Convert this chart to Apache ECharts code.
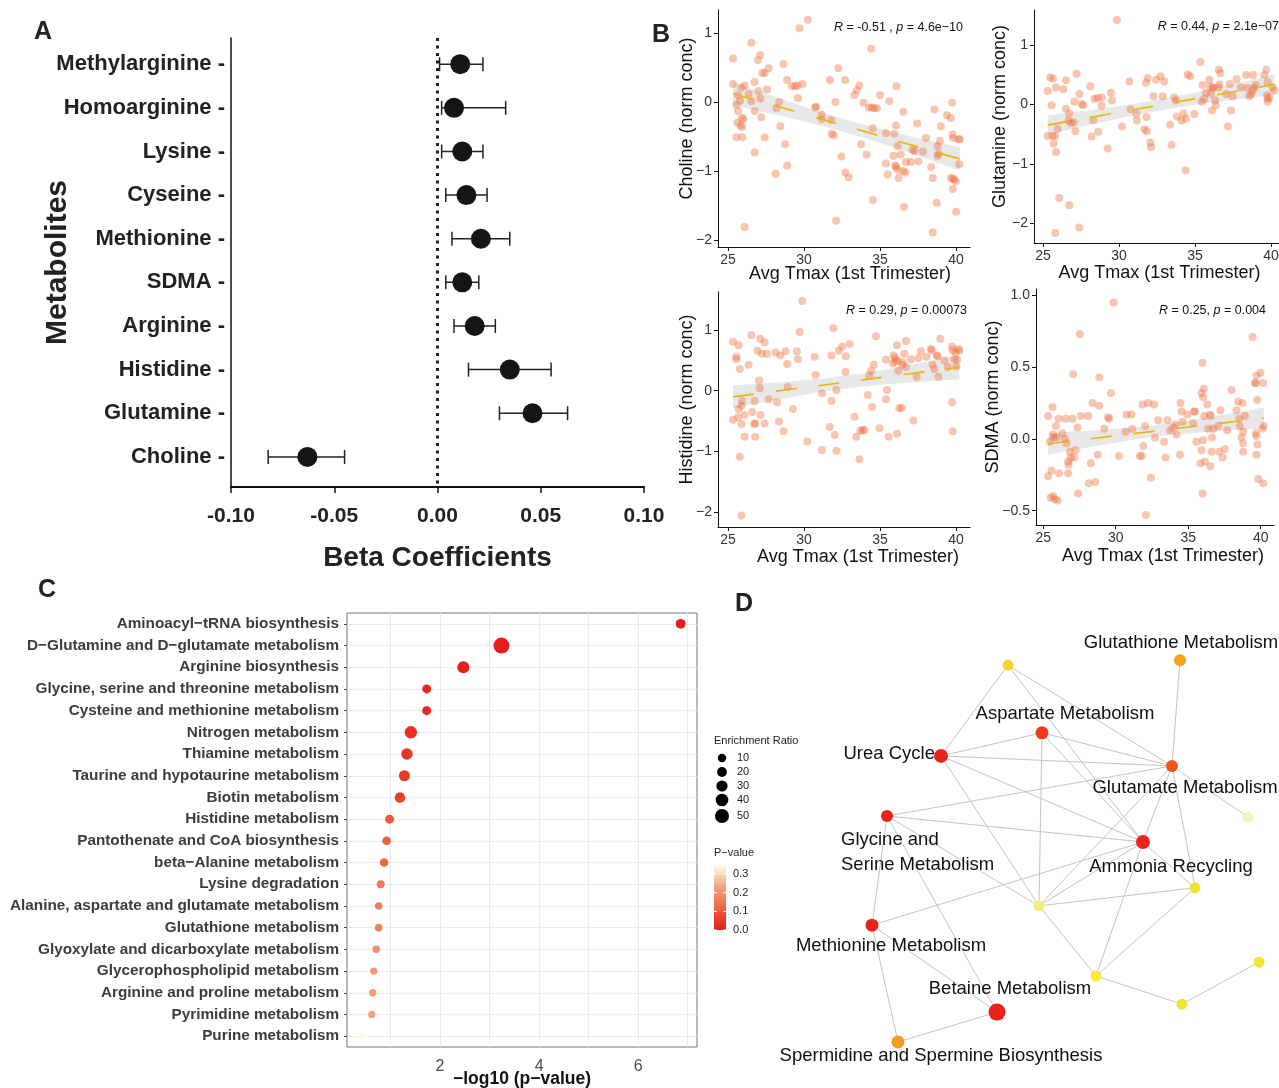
<!DOCTYPE html>
<html>
<head>
<meta charset="utf-8">
<title>Metabolites vs. first trimester temperature</title>
<script src="https://cdn.jsdelivr.net/npm/echarts@6.0.0/dist/echarts.min.js"></script>
<style>
  html, body { margin: 0; padding: 0; background: #fff; }
  #chart { width: 1279px; height: 1088px; }
</style>
</head>
<body>
<div id="chart"></div>
<script>
// ---------- A: beta coefficients ----------
var metabolites = ['Methylarginine', 'Homoarginine', 'Lysine', 'Cyseine', 'Methionine', 'SDMA', 'Arginine', 'Histidine', 'Glutamine', 'Choline'];
var betaEst = [0.011, 0.008, 0.012, 0.014, 0.021, 0.012, 0.018, 0.035, 0.046, -0.063];
var betaLow = [0.001, 0.002, 0.002, 0.004, 0.007, 0.004, 0.008, 0.015, 0.030, -0.082];
var betaHigh = [0.022, 0.033, 0.022, 0.024, 0.035, 0.020, 0.028, 0.055, 0.063, -0.045];

// ---------- B: scatter plots (x = avg Tmax, y = normalised conc) ----------
var tmaxTicks = [25, 30, 35, 40];
var cholinePts = [[25.33,0.63],[25.33,0.26],[25.88,0.21],[26.09,0.24],[25.66,0.10],[25.79,0.02],[25.55,-0.04],[25.66,-0.13],[25.92,-0.23],[26.01,-0.25],[25.61,-0.30],[25.83,-0.34],[25.92,-0.36],[25.55,-0.51],[25.94,-0.51],[26.09,-1.81],[26.36,0.12],[26.53,0.86],[26.53,0.01],[26.75,0.29],[26.75,-0.13],[26.75,-0.73],[26.97,0.61],[27.12,0.68],[27.01,0.16],[27.12,0.05],[27.19,-0.22],[27.25,0.42],[27.41,0.42],[27.67,0.49],[27.56,0.18],[27.41,-0.51],[28.13,-1.04],[28.19,-0.09],[28.37,0.00],[28.44,-0.35],[28.65,0.55],[28.76,-0.61],[28.89,0.32],[28.89,-0.92],[29.20,0.23],[29.42,0.23],[29.60,0.06],[29.55,0.24],[29.90,0.26],[29.70,1.07],[30.25,1.19],[30.73,-0.08],[30.80,-0.07],[31.15,-0.18],[31.17,-0.25],[31.70,0.32],[31.78,-0.26],[31.82,-0.46],[31.96,-0.48],[32.07,0.00],[32.11,-1.72],[32.26,0.49],[32.46,-0.79],[32.70,0.32],[32.72,-1.02],[32.94,-1.09],[33.32,0.10],[33.48,0.17],[33.64,0.24],[33.75,-0.61],[33.91,-0.01],[34.12,-0.76],[34.26,-0.08],[34.41,0.77],[34.45,-0.08],[34.52,-0.38],[34.63,-0.09],[34.52,-1.42],[34.80,-0.09],[35.00,0.10],[35.39,-0.45],[35.39,-0.89],[35.61,0.01],[35.50,-1.05],[35.89,-0.78],[35.94,-0.46],[36.05,-0.34],[36.09,0.23],[36.16,-0.64],[36.01,-0.92],[36.05,-0.94],[36.16,-0.98],[36.36,-0.76],[36.23,-1.10],[36.58,-1.52],[36.53,-0.14],[36.53,-1.00],[36.67,-1.02],[36.71,-0.87],[37.04,-0.87],[37.15,-0.69],[37.27,-0.71],[37.44,-0.31],[37.53,-0.86],[37.81,-0.72],[38.03,-0.52],[38.36,-0.94],[38.47,-1.10],[38.47,-1.89],[38.58,-0.11],[38.73,-1.46],[38.79,-0.78],[38.79,-0.64],[38.85,-0.75],[39.00,-0.35],[38.94,-0.56],[39.40,-0.19],[39.66,-0.23],[39.75,-0.01],[39.77,-0.47],[39.81,-0.52],[39.66,-1.10],[39.79,-1.11],[39.88,-1.12],[39.79,-1.26],[39.99,-1.15],[40.01,-1.59],[40.16,-0.54],[40.25,-0.54],[40.21,-0.90]];
var glutaminePts = [[25.31,0.23],[25.31,-0.53],[25.48,0.46],[25.66,0.44],[25.57,-0.01],[25.64,-0.53],[25.79,-0.53],[25.70,-0.66],[25.86,-0.80],[25.96,-0.41],[25.86,0.29],[26.07,-1.58],[25.81,-2.17],[26.34,0.26],[26.51,0.41],[26.51,-0.07],[26.73,-0.15],[26.69,-0.27],[26.84,-0.31],[27.02,-0.30],[27.13,-0.45],[27.21,0.52],[27.39,0.18],[27.06,0.05],[27.54,0.01],[27.65,-0.01],[26.73,-1.70],[27.39,-2.08],[28.11,0.31],[28.20,-0.54],[28.31,-0.26],[28.38,0.10],[28.60,0.11],[28.64,-0.46],[28.86,-0.02],[28.86,0.12],[29.25,-0.74],[29.47,0.20],[29.54,0.07],[29.87,1.43],[30.20,-0.37],[30.68,0.39],[30.75,-0.08],[31.14,-0.16],[31.18,-0.27],[31.67,-0.42],[31.84,-0.45],[31.80,-0.21],[31.78,0.37],[31.89,0.45],[32.06,-0.64],[32.11,-0.72],[32.26,0.14],[32.44,0.42],[32.73,0.48],[32.88,0.14],[32.98,0.39],[33.36,-0.34],[33.46,-0.68],[33.64,0.12],[33.82,-0.20],[33.75,0.07],[34.12,-0.27],[34.25,-0.15],[34.41,-0.24],[34.38,-1.11],[34.52,0.51],[34.69,0.48],[34.96,-0.16],[35.35,0.72],[35.44,0.05],[35.50,0.33],[35.61,0.10],[35.72,0.20],[35.94,0.42],[36.01,0.31],[36.16,0.28],[36.05,0.18],[36.20,0.29],[36.32,0.07],[36.36,-0.01],[36.11,-0.10],[36.56,0.59],[36.67,0.53],[36.61,0.34],[36.54,0.29],[37.05,0.18],[37.16,-0.37],[37.37,-0.10],[37.48,0.14],[37.28,0.35],[37.74,0.43],[38.03,0.29],[38.36,0.50],[38.46,0.28],[38.57,0.14],[38.68,0.17],[38.83,0.50],[38.90,0.28],[38.79,0.24],[39.00,0.33],[39.69,0.59],[39.56,0.50],[39.78,0.38],[39.74,0.16],[39.78,0.10],[39.78,0.05],[39.89,0.12],[40.11,0.29],[40.22,0.24]];
var histidinePts = [[25.33,0.81],[25.33,-0.48],[25.55,0.56],[25.55,0.52],[25.70,0.75],[25.77,0.36],[25.92,-0.17],[25.88,-0.25],[25.70,-0.30],[25.66,-0.44],[25.88,-0.55],[26.09,-0.40],[26.09,-0.76],[25.77,-1.09],[25.88,-2.06],[26.36,0.43],[26.53,0.92],[26.60,-0.35],[26.71,-0.55],[26.79,-0.54],[26.79,-0.76],[26.75,-0.17],[27.04,0.17],[27.08,0.04],[26.93,0.66],[27.12,0.86],[27.41,0.80],[27.23,0.61],[27.56,0.61],[27.14,-0.40],[27.41,-0.54],[27.67,-0.14],[28.22,-0.19],[28.13,0.63],[28.35,-0.51],[28.44,0.58],[28.65,-0.67],[28.79,0.65],[28.89,0.44],[28.93,0.06],[29.27,-0.30],[29.53,0.65],[29.60,0.52],[29.71,0.97],[29.88,1.48],[30.21,-0.84],[30.69,0.56],[30.76,0.26],[31.18,-0.04],[31.18,-0.98],[31.69,-0.60],[31.80,-0.17],[31.80,0.58],[31.93,1.03],[32.02,-0.73],[32.13,0.01],[32.13,-0.99],[32.29,0.66],[32.51,0.73],[32.75,0.57],[32.73,0.31],[33.00,0.77],[33.32,-0.43],[33.43,-0.76],[33.64,-1.13],[33.71,-0.66],[33.86,-0.65],[33.97,-0.65],[34.19,-0.07],[34.30,0.25],[34.41,0.33],[34.48,-0.27],[34.59,0.43],[34.74,0.90],[34.96,-0.62],[35.39,0.51],[35.46,0.01],[35.39,-0.14],[35.57,-0.76],[35.83,0.45],[35.90,0.58],[35.98,0.54],[36.01,0.48],[36.12,0.75],[36.12,-0.71],[36.16,0.50],[36.20,0.33],[36.27,-0.29],[36.42,-0.28],[36.45,0.43],[36.49,0.47],[36.60,0.61],[36.71,0.82],[36.71,0.39],[37.04,0.52],[37.19,-0.49],[37.41,0.23],[37.54,0.54],[37.69,0.65],[38.06,0.56],[38.35,0.69],[38.41,0.67],[38.46,0.43],[38.57,0.36],[38.75,0.58],[38.84,0.23],[38.97,0.86],[38.79,0.57],[39.23,0.50],[39.45,0.39],[39.74,-0.19],[39.74,0.73],[39.78,0.67],[39.78,-0.67],[39.89,0.52],[39.96,0.63],[40.07,0.51],[40.16,0.69],[40.22,0.66],[40.02,0.40]];
var sdmaPts = [[25.34,0.16],[25.34,-0.26],[25.46,-0.02],[25.57,-0.22],[25.51,-0.41],[25.64,0.22],[25.69,0.03],[25.69,-0.40],[25.74,0.01],[25.80,-0.42],[25.87,0.09],[25.92,0.01],[25.99,-0.43],[26.06,0.14],[26.08,-0.24],[26.31,0.04],[26.49,0.00],[26.56,0.14],[26.61,-0.03],[26.72,-0.16],[26.75,-0.18],[26.72,-0.24],[26.84,-0.09],[26.91,-0.13],[27.02,0.14],[27.07,0.45],[27.14,-0.13],[27.23,-0.08],[27.37,0.08],[27.41,-0.38],[27.53,0.73],[27.60,0.16],[28.10,0.16],[28.14,-0.31],[28.29,-0.17],[28.40,0.25],[28.59,-0.30],[28.75,-0.11],[28.86,0.23],[28.86,0.43],[29.21,0.07],[29.48,0.15],[29.55,0.14],[29.67,0.32],[29.85,0.95],[30.22,-0.12],[30.68,0.05],[30.75,0.17],[31.09,0.17],[31.14,0.07],[31.67,-0.12],[31.78,-0.12],[31.85,0.24],[31.90,-0.05],[32.03,0.09],[32.08,-0.53],[32.24,0.25],[32.43,-0.27],[32.66,0.24],[32.70,0.01],[32.93,0.13],[33.34,-0.02],[33.44,-0.13],[33.57,0.13],[33.74,0.06],[33.97,0.08],[34.13,0.10],[34.20,0.03],[34.43,-0.11],[34.47,0.25],[34.54,0.19],[34.61,0.12],[34.95,0.17],[35.34,0.11],[35.41,0.19],[35.46,0.19],[35.57,-0.02],[35.85,-0.17],[35.92,-0.08],[35.92,0.32],[35.99,0.53],[36.03,0.29],[36.08,0.35],[36.03,-0.01],[36.10,0.16],[36.15,-0.16],[35.99,-0.38],[36.31,0.24],[36.38,0.07],[36.49,0.17],[36.53,-0.19],[36.61,-0.09],[36.64,0.01],[36.72,0.07],[36.56,0.16],[37.07,0.09],[37.14,-0.09],[37.23,0.20],[37.37,-0.13],[37.53,-0.07],[37.69,0.06],[37.99,0.34],[38.33,0.20],[38.45,0.26],[38.52,0.14],[38.56,0.09],[38.75,0.25],[38.68,0.01],[38.79,-0.03],[38.79,-0.09],[38.79,0.05],[38.91,0.16],[39.44,0.71],[39.60,0.39],[39.67,0.39],[39.71,0.44],[39.76,0.27],[39.67,0.04],[39.71,0.02],[39.78,-0.04],[39.71,-0.11],[39.83,-0.28],[39.99,0.46],[40.13,0.07],[40.17,0.39],[40.17,-0.31],[40.22,0.09]];
var corR = ['-0.51 ,', '0.44,', '0.29,', '0.25,'];
var corP = ['4.6e−10', '2.1e−07', '0.00073', '0.004'];

// ---------- C: pathway enrichment ----------
var pathways = ['Aminoacyl−tRNA biosynthesis', 'D−Glutamine and D−glutamate metabolism', 'Arginine biosynthesis', 'Glycine, serine and threonine metabolism', 'Cysteine and methionine metabolism', 'Nitrogen metabolism', 'Thiamine metabolism', 'Taurine and hypotaurine metabolism', 'Biotin metabolism', 'Histidine metabolism', 'Pantothenate and CoA biosynthesis', 'beta−Alanine metabolism', 'Lysine degradation', 'Alanine, aspartate and glutamate metabolism', 'Glutathione metabolism', 'Glyoxylate and dicarboxylate metabolism', 'Glycerophospholipid metabolism', 'Arginine and proline metabolism', 'Pyrimidine metabolism', 'Purine metabolism'];
var negLogP = [6.86, 3.24, 2.47, 1.73, 1.73, 1.41, 1.33, 1.28, 1.19, 0.98, 0.92, 0.87, 0.80, 0.76, 0.76, 0.71, 0.66, 0.64, 0.62, 0.44];
var enrichRatio = [21, 64, 36, 14, 14, 39, 32, 29, 25, 14, 11, 11, 7, 4, 4, 4, 2, 2, 2, 1];
var logTicks = [2, 4, 6];
var ratioLegend = [10, 20, 30, 40, 50];
var pLegend = [0.0, 0.1, 0.2, 0.3];

// ---------- D: pathway network ----------
var nodeNames = ['', 'Glutathione Metabolism', 'Aspartate Metabolism', 'Urea Cycle', 'Glutamate Metabolism', '', 'Glycine and\nSerine Metabolism', 'Ammonia Recycling', '', '', 'Methionine Metabolism', '', '', '', 'Betaine Metabolism', 'Spermidine and Spermine Biosynthesis'];
var nodeX = [47.6, 82.0, 54.4, 34.2, 80.4, 95.6, 23.4, 74.6, 85.0, 53.8, 20.4, 65.2, 97.8, 82.4, 45.4, 25.6];
var nodeY = [6.0, 4.8, 22.1, 27.6, 30.0, 42.1, 41.9, 48.1, 59.0, 63.3, 67.9, 80.0, 76.7, 86.7, 88.6, 95.7];
var nodeP = [0.61, 0.38, 0.08, 0.005, 0.15, 1.0, 0.005, 0.01, 0.7, 0.87, 0.005, 0.75, 0.7, 0.7, 0.002, 0.36];
var nodeRatio = [20, 27, 33, 40, 27, 20, 27, 40, 20, 20, 33, 20, 20, 20, 60, 33];
var edges = [[0,3],[0,4],[0,7],[1,4],[2,3],[2,4],[2,9],[2,7],[3,4],[3,7],[3,9],[4,5],[4,6],[4,7],[4,9],[4,8],[6,7],[6,9],[6,10],[6,14],[7,10],[7,9],[7,8],[7,11],[9,8],[9,11],[8,11],[11,13],[13,12],[10,14],[10,15],[14,15]];

var FONT = 'Liberation Sans, Arial, Helvetica, sans-serif';
var pStops = ['#e61e1c', '#e93c26', '#ed6040', '#f08660', '#f4a27f', '#f9cdb2', '#fffbe2'];
var netStops = ['#e8201c', '#f07a20', '#f5c81d', '#f3ea3a', '#f8f3b8'];

function hexRgb(h) { return [parseInt(h.slice(1, 3), 16), parseInt(h.slice(3, 5), 16), parseInt(h.slice(5, 7), 16)]; }
function ramp(stops, t) {
  t = Math.max(0, Math.min(1, t));
  var s = t * (stops.length - 1);
  var i = Math.min(Math.floor(s), stops.length - 2);
  var f = s - i, a = hexRgb(stops[i]), b = hexRgb(stops[i + 1]);
  return 'rgb(' + a.map(function (v, k) { return Math.round(v + (b[k] - v) * f); }).join(',') + ')';
}
function ratioSize(r) { return 7 + 0.14 * r; }
function minus(s) { return String(s).replace('-', '−'); }

// least squares line + 95% band, like geom_smooth(method = 'lm')
function fitLine(pts) {
  var n = pts.length, mx = 0, my = 0, sxx = 0, sxy = 0, sse = 0;
  pts.forEach(function (p) { mx += p[0] / n; my += p[1] / n; });
  pts.forEach(function (p) { sxx += (p[0] - mx) * (p[0] - mx); sxy += (p[0] - mx) * (p[1] - my); });
  var b = sxy / sxx, a = my - b * mx;
  pts.forEach(function (p) { var r = p[1] - a - b * p[0]; sse += r * r; });
  var s = Math.sqrt(sse / (n - 2));
  var xs = pts.map(function (p) { return p[0]; });
  var x0 = Math.min.apply(null, xs), x1 = Math.max.apply(null, xs);
  var band = [];
  for (var k = 0; k <= 40; k++) {
    var x = x0 + (x1 - x0) * k / 40;
    var se = 1.98 * s * Math.sqrt(1 / n + (x - mx) * (x - mx) / sxx);
    band.push([x, a + b * x - se, a + b * x + se]);
  }
  return { line: [[x0, a + b * x0], [x1, a + b * x1]], band: band };
}

var grids = [], xAxes = [], yAxes = [], series = [], graphics = [];

// ----- A -----
var idxA = metabolites.map(function (m, i) { return i; });
grids.push({ left: 231, top: 38, width: 413, height: 449 });
xAxes.push({
  gridIndex: 0, type: 'value', min: -0.1, max: 0.1, interval: 0.05,
  axisLine: { onZero: false, lineStyle: { color: '#111', width: 2 } },
  axisTick: { show: true, length: 6, lineStyle: { color: '#111', width: 1.5 } },
  axisLabel: { fontSize: 21, fontWeight: 'bold', color: '#222', margin: 19, fontFamily: FONT,
    formatter: function (v) { return Math.abs(v) < 1e-9 ? '0.00' : v.toFixed(2); } },
  splitLine: { show: false },
  name: 'Beta Coefficients', nameLocation: 'middle', nameGap: 57, nameMoveOverlap: false,
  nameTextStyle: { fontSize: 28, fontWeight: 'bold', color: '#222', fontFamily: FONT }
});
yAxes.push({
  gridIndex: 0, type: 'value', inverse: true, min: -0.6, max: 9.69,
  axisLine: { show: true, onZero: false, lineStyle: { color: '#111', width: 1.5 } },
  axisTick: { show: false },
  axisLabel: { customValues: idxA, margin: 6, fontSize: 22, fontWeight: 'bold', color: '#222', fontFamily: FONT,
    formatter: function (v) { return metabolites[v] + ' -'; } },
  splitLine: { show: false },
  name: 'Metabolites', nameLocation: 'middle', nameGap: 158, nameRotate: 90, nameMoveOverlap: false,
  nameTextStyle: { fontSize: 30, fontWeight: 'bold', color: '#222', fontFamily: FONT }
});
series.push({
  type: 'custom', xAxisIndex: 0, yAxisIndex: 0, silent: true, z: 3,
  data: idxA.map(function (i) { return [betaLow[i], betaHigh[i], i]; }),
  encode: { x: [0, 1], y: 2 },
  renderItem: function (params, api) {
    var lo = api.coord([api.value(0), api.value(2)]);
    var hi = api.coord([api.value(1), api.value(2)]);
    var st = { stroke: '#222', lineWidth: 1.5 };
    return { type: 'group', children: [
      { type: 'line', shape: { x1: lo[0], y1: lo[1], x2: hi[0], y2: hi[1] }, style: st },
      { type: 'line', shape: { x1: lo[0], y1: lo[1] - 7, x2: lo[0], y2: lo[1] + 7 }, style: st },
      { type: 'line', shape: { x1: hi[0], y1: hi[1] - 7, x2: hi[0], y2: hi[1] + 7 }, style: st }
    ] };
  }
});
series.push({
  type: 'scatter', xAxisIndex: 0, yAxisIndex: 0, z: 4, symbolSize: 20,
  itemStyle: { color: '#151515', opacity: 1 },
  data: idxA.map(function (i) { return [betaEst[i], i]; }),
  markLine: { silent: true, symbol: 'none', label: { show: false },
    lineStyle: { type: [3, 4.5], color: '#222', width: 3 }, data: [{ xAxis: 0 }] }
});

// ----- B -----
var bPanels = [
  { pts: cholinePts, name: 'Choline (norm conc)', grid: { left: 718, top: 10, width: 252, height: 237 }, x: [24.34, 40.92], y: [-2.10, 1.333], ticks: [-2, -1, 0, 1], dec: 0, gap: 22, xGap: 18, pad: 12, sx: 963, sy: 28 },
  { pts: glutaminePts, name: 'Glutamine (norm conc)', grid: { left: 1034, top: 10, width: 251, height: 233 }, x: [24.41, 40.92], y: [-2.34, 1.60], ticks: [-2, -1, 0, 1], dec: 0, gap: 25, xGap: 21, pad: 0, sx: 1279, sy: 27 },
  { pts: histidinePts, name: 'Histidine (norm conc)', grid: { left: 718, top: 292, width: 252, height: 235 }, x: [24.34, 40.92], y: [-2.25, 1.63], ticks: [-2, -1, 0, 1], dec: 0, gap: 22, xGap: 21, pad: 28, sx: 967, sy: 311 },
  { pts: sdmaPts, name: 'SDMA (norm conc)', grid: { left: 1036, top: 289, width: 238, height: 236 }, x: [24.50, 40.92], y: [-0.60, 1.044], ticks: [-0.5, 0, 0.5, 1.0], dec: 1, gap: 34, xGap: 22, pad: 16, sx: 1266, sy: 311 }
];
bPanels.forEach(function (bp, k) {
  var gi = grids.length;
  grids.push(bp.grid);
  xAxes.push({
    gridIndex: gi, type: 'value', min: bp.x[0], max: bp.x[1],
    axisLine: { onZero: false, lineStyle: { color: '#111', width: 1 } },
    axisTick: { show: true, customValues: tmaxTicks, length: 4, lineStyle: { color: '#111' } },
    axisLabel: { customValues: tmaxTicks, fontSize: 14, color: '#333', margin: 6, fontFamily: FONT },
    splitLine: { show: false },
    name: 'Avg Tmax (1st Trimester)', nameLocation: 'middle', nameGap: bp.xGap, nameMoveOverlap: false,
    nameTextStyle: { fontSize: 18, color: '#111', fontFamily: FONT, padding: [0, 0, 0, bp.pad] }
  });
  yAxes.push({
    gridIndex: gi, type: 'value', min: bp.y[0], max: bp.y[1],
    axisLine: { show: true, onZero: false, lineStyle: { color: '#111', width: 1 } },
    axisTick: { show: true, customValues: bp.ticks, length: 4, lineStyle: { color: '#111' } },
    axisLabel: { customValues: bp.ticks, fontSize: 14, color: '#333', margin: 6, fontFamily: FONT,
      formatter: function (v) { return minus(v.toFixed(bp.dec)); } },
    splitLine: { show: false },
    name: bp.name, nameLocation: 'middle', nameGap: bp.gap, nameRotate: 90, nameMoveOverlap: false,
    nameTextStyle: { fontSize: 18, color: '#111', fontFamily: FONT, padding: [0, 0, 0, 20] }
  });
  var fit = fitLine(bp.pts);
  series.push({
    type: 'custom', xAxisIndex: gi, yAxisIndex: gi, silent: true, z: 1,
    data: [[fit.line[0][0], fit.line[0][1]]],
    renderItem: function (params, api) {
      var up = fit.band.map(function (b) { return api.coord([b[0], b[2]]); });
      var dn = fit.band.slice().reverse().map(function (b) { return api.coord([b[0], b[1]]); });
      return { type: 'polygon', shape: { points: up.concat(dn) }, style: { fill: 'rgba(205,205,205,0.45)' } };
    }
  });
  series.push({
    type: 'scatter', xAxisIndex: gi, yAxisIndex: gi, z: 2, symbolSize: 8,
    itemStyle: { color: 'rgba(238,110,60,0.5)' },
    data: bp.pts
  });
  series.push({
    type: 'line', xAxisIndex: gi, yAxisIndex: gi, z: 3, symbol: 'none', silent: true,
    lineStyle: { color: '#E7B800', width: 1.6, type: [21, 22] },
    data: fit.line
  });
  graphics.push({
    type: 'text', x: bp.sx, y: bp.sy,
    style: {
      text: '{i|R} = ' + corR[k] + ' {i|p} = ' + corP[k],
      align: 'right', verticalAlign: 'middle', fill: '#111',
      font: '12.5px ' + FONT,
      rich: { i: { fontStyle: 'italic', fontSize: 12.5, fontFamily: FONT, fill: '#111' } }
    }
  });
});

// ----- C -----
var idxC = pathways.map(function (p, i) { return i; });
var gC = grids.length;
grids.push({ left: 347, top: 613, width: 350, height: 434, show: true, borderColor: '#777', borderWidth: 1 });
xAxes.push({
  gridIndex: gC, type: 'value', min: 0.12, max: 7.19,
  axisLine: { show: false },
  axisTick: { show: false, customValues: [1, 2, 3, 4, 5, 6, 7] },
  axisLabel: { customValues: logTicks, fontSize: 16, color: '#4d4d4d', margin: 12, fontFamily: FONT },
  splitLine: { show: true, lineStyle: { color: '#ebebeb', width: 1 } },
  name: '−log10 (p−value)', nameLocation: 'middle', nameGap: 23, nameMoveOverlap: false,
  nameTextStyle: { fontSize: 17.5, fontWeight: 'bold', color: '#111', fontFamily: FONT }
});
yAxes.push({
  gridIndex: gC, type: 'value', inverse: true, min: -0.5, max: 19.5,
  axisLine: { show: false, onZero: false },
  axisTick: { show: true, customValues: idxC, length: 3, lineStyle: { color: '#444' } },
  axisLabel: { customValues: idxC, fontSize: 15.3, fontWeight: 'bold', color: '#3c3c3c', margin: 8, fontFamily: FONT,
    formatter: function (v) { return pathways[v]; } },
  splitLine: { show: true, lineStyle: { color: '#ebebeb', width: 1 } }
});
series.push({
  type: 'scatter', xAxisIndex: gC, yAxisIndex: gC, z: 3,
  data: idxC.map(function (i) { return [negLogP[i], i, enrichRatio[i], Math.pow(10, -negLogP[i])]; }),
  symbolSize: function (v) { return ratioSize(v[2]); },
  itemStyle: { opacity: 1, color: function (p) { return ramp(pStops, p.data[3] / 0.36); } }
});
// C legends
graphics.push({ type: 'text', x: 714, y: 741, style: { text: 'Enrichment Ratio', font: '11px ' + FONT, fill: '#222', verticalAlign: 'middle' } });
var legY = [758, 772, 786, 800, 816];
ratioLegend.forEach(function (r, i) {
  graphics.push({ type: 'circle', shape: { cx: 722, cy: legY[i], r: ratioSize(r) / 2 }, style: { fill: '#000' } });
  graphics.push({ type: 'text', x: 737, y: legY[i], style: { text: String(r), font: '11px ' + FONT, fill: '#222', verticalAlign: 'middle' } });
});
graphics.push({ type: 'text', x: 714, y: 853, style: { text: 'P−value', font: '11px ' + FONT, fill: '#222', verticalAlign: 'middle' } });
graphics.push({ type: 'rect', shape: { x: 714, y: 866, width: 12, height: 64 }, style: {
  fill: new echarts.graphic.LinearGradient(0, 1, 0, 0, pStops.map(function (c, i) { return { offset: i / (pStops.length - 1), color: c }; }))
} });
pLegend.forEach(function (v) {
  var yy = 930 - v / 0.3 * 56;
  graphics.push({ type: 'line', shape: { x1: 714, y1: yy, x2: 717, y2: yy }, style: { stroke: '#fff', lineWidth: 1 } });
  graphics.push({ type: 'line', shape: { x1: 723, y1: yy, x2: 726, y2: yy }, style: { stroke: '#fff', lineWidth: 1 } });
  graphics.push({ type: 'text', x: 733, y: yy, style: { text: v.toFixed(1), font: '11px ' + FONT, fill: '#222', verticalAlign: 'middle' } });
});

// ----- D -----
var labelPlace = {
  1: { offset: [1, -17] }, 2: { offset: [23, -19] }, 3: { offset: [-6, -2], align: 'right' },
  4: { offset: [13, 22] }, 6: { offset: [-46, 36], align: 'left' }, 7: { offset: [28, 25] },
  10: { offset: [19, 21] }, 14: { offset: [13, -23] }, 15: { offset: [43, 14] }
};
var gD = grids.length;
grids.push({ left: 770, top: 640, width: 500, height: 420 });
xAxes.push({ gridIndex: gD, type: 'value', min: 0, max: 100, show: false });
yAxes.push({ gridIndex: gD, type: 'value', min: 0, max: 100, inverse: true, show: false });
series.push({
  type: 'graph', coordinateSystem: 'cartesian2d', xAxisIndex: gD, yAxisIndex: gD, layout: 'none', z: 3,
  data: nodeNames.map(function (n, i) {
    var lp = labelPlace[i];
    return {
      name: n || ('node' + i), value: [nodeX[i], nodeY[i]],
      symbolSize: 8 + 0.15 * nodeRatio[i],
      itemStyle: { color: ramp(netStops, nodeP[i]) },
      label: lp ? { show: true, position: 'inside', offset: lp.offset, align: lp.align || 'center', verticalAlign: 'middle',
        formatter: n, fontSize: 18.5, lineHeight: 25, color: '#111', fontFamily: FONT } : { show: false }
    };
  }),
  links: edges.map(function (e) { return { source: e[0], target: e[1] }; }),
  lineStyle: { color: '#c4c4c4', width: 1, opacity: 1, curveness: 0 },
  emphasis: { disabled: true }
});

// panel letters
[['A', 43, 32], ['B', 661, 35], ['C', 47, 590], ['D', 744, 604]].forEach(function (l) {
  graphics.push({ type: 'text', x: l[1], y: l[2], style: { text: l[0], font: 'bold 25px ' + FONT, fill: '#222', align: 'center', verticalAlign: 'middle' } });
});

grids.forEach(function (g) { g.containLabel = false; g.outerBoundsMode = 'none'; });

var chart = echarts.init(document.getElementById('chart'), null, { renderer: 'canvas' });
chart.setOption({
  backgroundColor: '#fff',
  animation: false,
  textStyle: { fontFamily: FONT },
  grid: grids,
  xAxis: xAxes,
  yAxis: yAxes,
  series: series,
  graphic: graphics
});
</script>
</body>
</html>
